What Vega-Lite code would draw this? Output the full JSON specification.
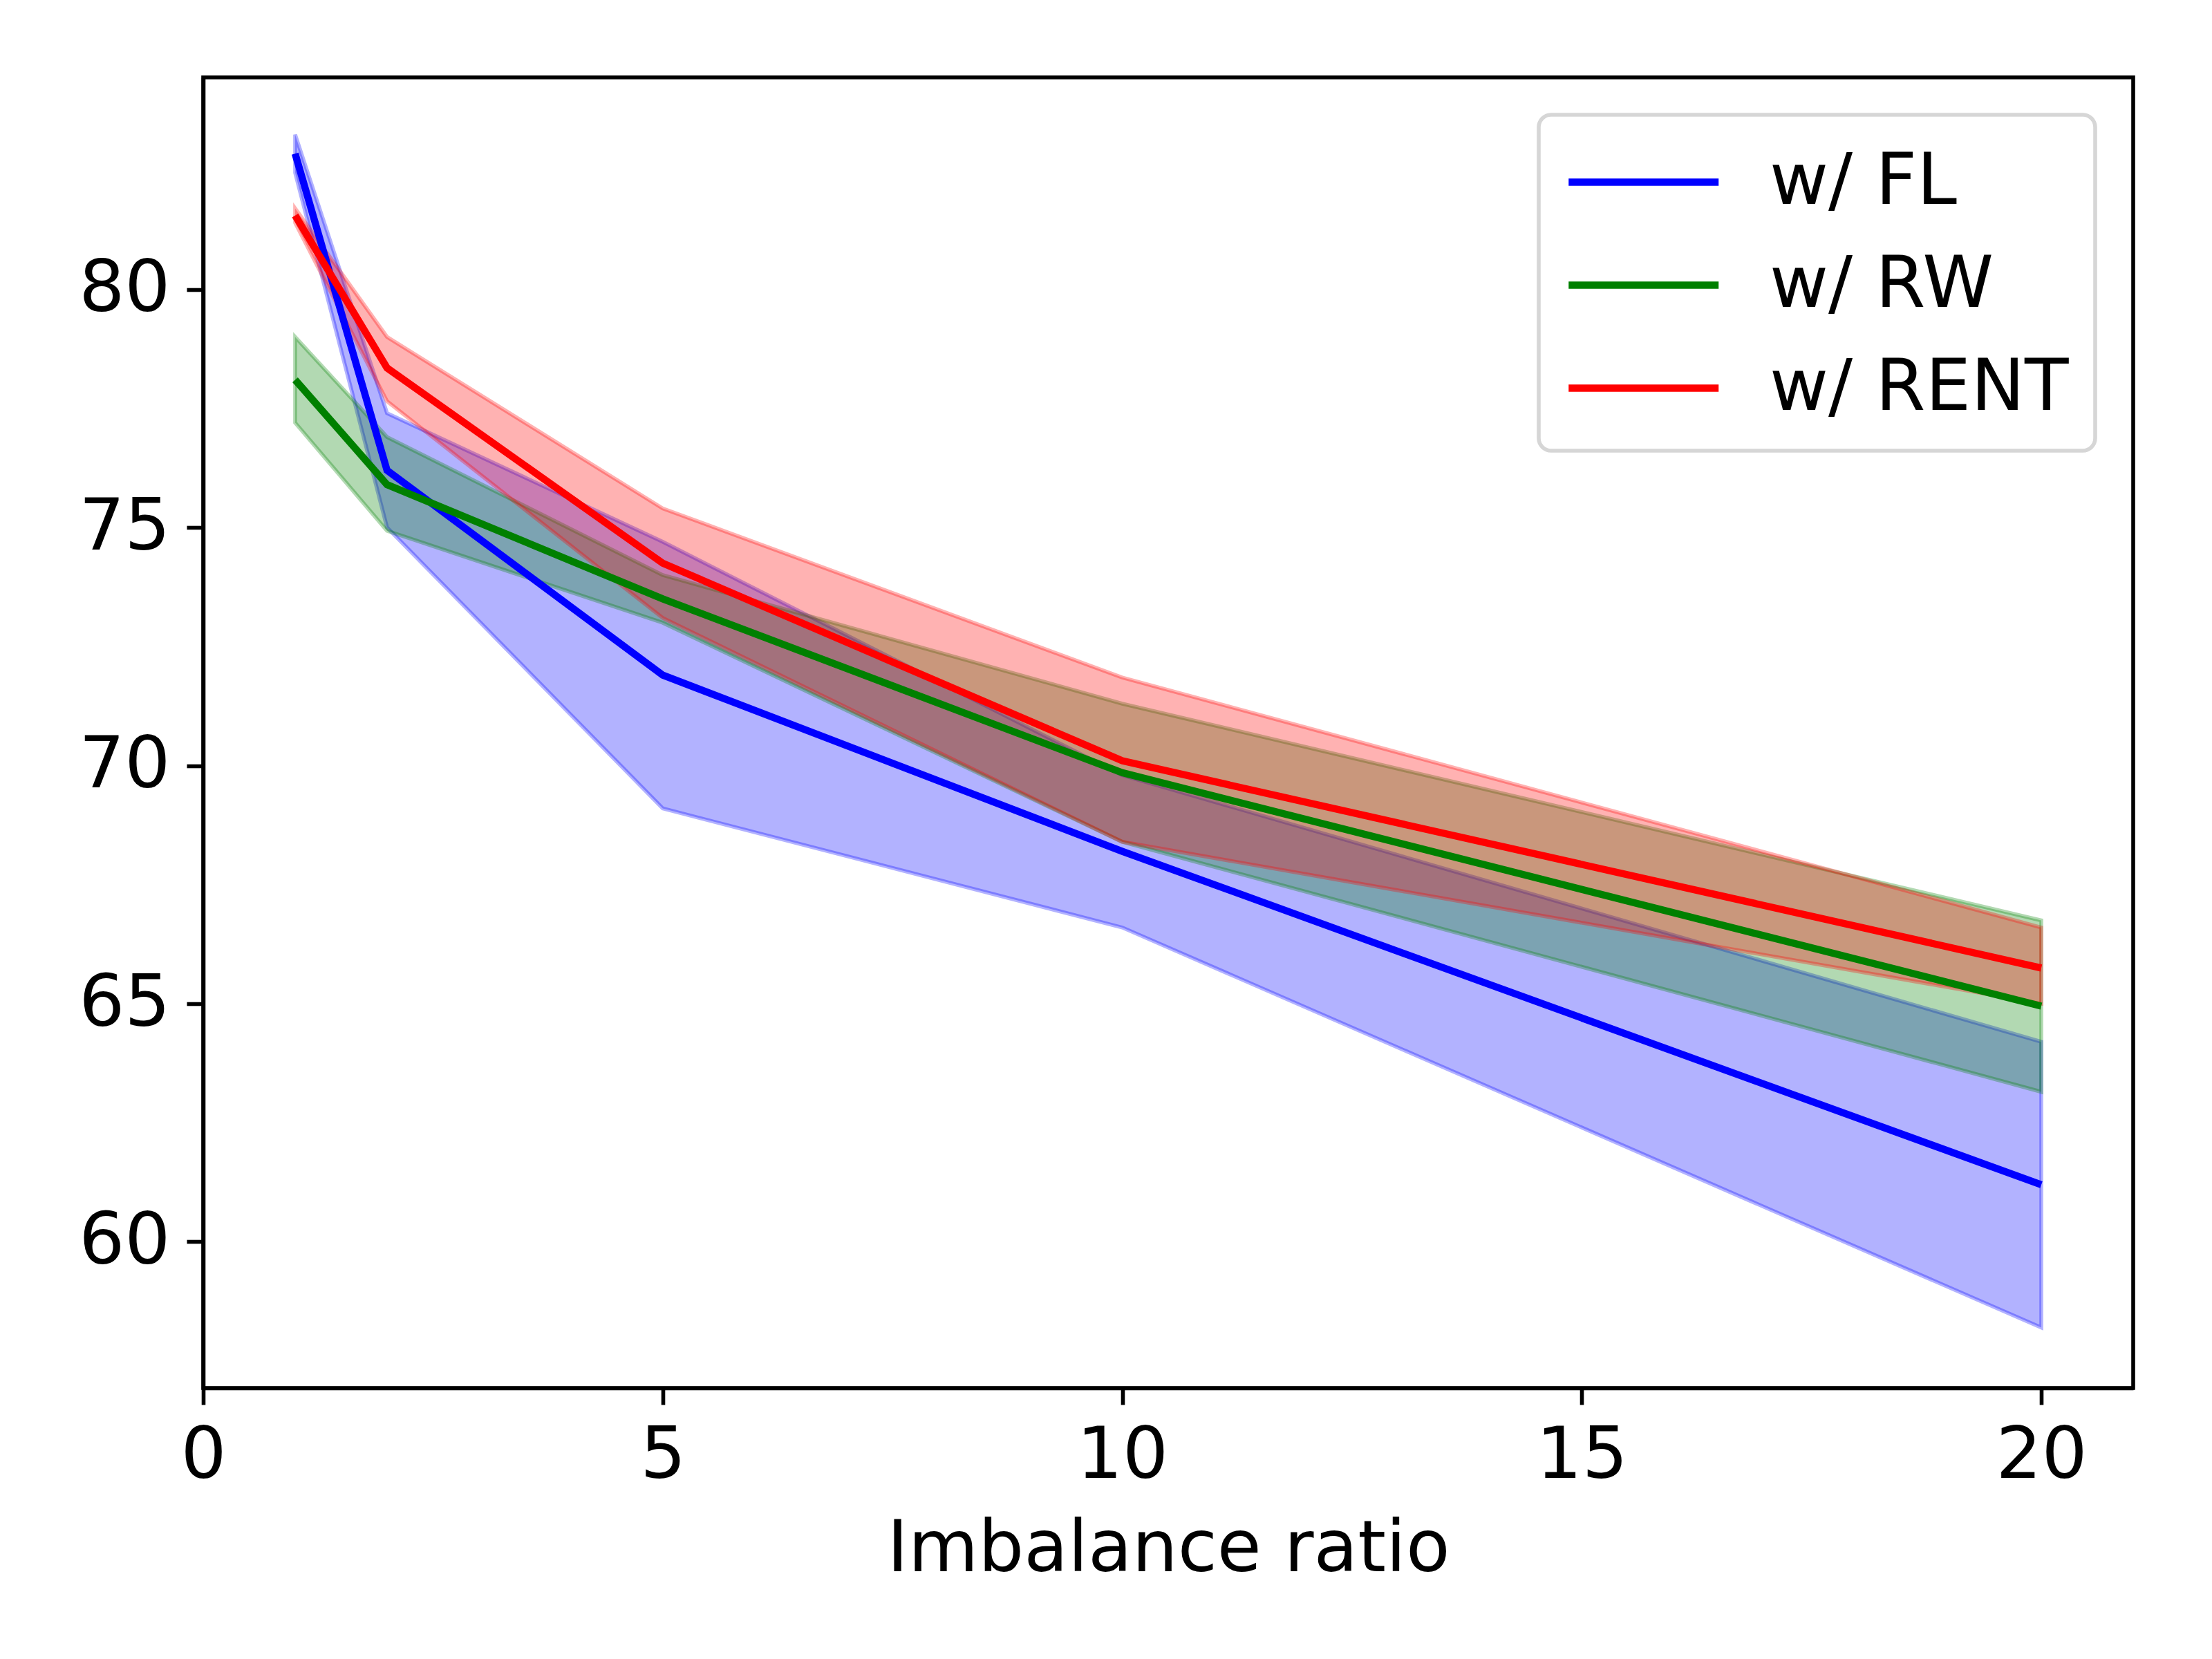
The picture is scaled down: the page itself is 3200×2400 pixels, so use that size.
{
  "$schema": "https://vega.github.io/schema/vega-lite/v6.json",
  "width": 2792,
  "height": 1896,
  "autosize": {"type": "none"},
  "padding": {"left": 294, "top": 112, "right": 114, "bottom": 392},
  "background": "white",
  "data": {
    "values": [
      {"ratio": 1, "method": "w/ FL", "mean": 82.85, "lo": 82.45, "hi": 83.25},
      {"ratio": 2, "method": "w/ FL", "mean": 76.2, "lo": 75.0, "hi": 77.4},
      {"ratio": 5, "method": "w/ FL", "mean": 71.9, "lo": 69.1, "hi": 74.7},
      {"ratio": 10, "method": "w/ FL", "mean": 68.2, "lo": 66.6, "hi": 69.8},
      {"ratio": 20, "method": "w/ FL", "mean": 61.2, "lo": 58.2, "hi": 64.2},
      {"ratio": 1, "method": "w/ RW", "mean": 78.1, "lo": 77.2, "hi": 79.0},
      {"ratio": 2, "method": "w/ RW", "mean": 75.9, "lo": 74.93, "hi": 76.9},
      {"ratio": 5, "method": "w/ RW", "mean": 73.5, "lo": 73.0, "hi": 74.0},
      {"ratio": 10, "method": "w/ RW", "mean": 69.85, "lo": 68.4, "hi": 71.3},
      {"ratio": 20, "method": "w/ RW", "mean": 64.95, "lo": 63.15, "hi": 66.75},
      {"ratio": 1, "method": "w/ RENT", "mean": 81.55, "lo": 81.4, "hi": 81.7},
      {"ratio": 2, "method": "w/ RENT", "mean": 78.35, "lo": 77.65, "hi": 79.0},
      {"ratio": 5, "method": "w/ RENT", "mean": 74.25, "lo": 73.1, "hi": 75.4},
      {"ratio": 10, "method": "w/ RENT", "mean": 70.1, "lo": 68.4, "hi": 71.85},
      {"ratio": 20, "method": "w/ RENT", "mean": 65.75, "lo": 65.0, "hi": 66.6}
    ]
  },
  "encoding": {
    "x": {
      "field": "ratio",
      "type": "quantitative",
      "title": "Imbalance ratio",
      "scale": {"domain": [0, 21], "nice": false, "zero": false},
      "axis": {"values": [0, 5, 10, 15, 20], "format": "d", "labelPadding": 23, "titlePadding": 32}
    }
  },
  "layer": [
    {
      "transform": [{"filter": "datum.method == 'w/ FL'"}],
      "mark": {"type": "area", "color": "#0000ff", "fillOpacity": 0.3, "stroke": "#0000ff", "strokeOpacity": 0.3, "strokeWidth": 5.6},
      "encoding": {
        "y": {"field": "lo", "type": "quantitative"},
        "y2": {"field": "hi"}
      }
    },
    {
      "transform": [{"filter": "datum.method == 'w/ RW'"}],
      "mark": {"type": "area", "color": "#008000", "fillOpacity": 0.3, "stroke": "#008000", "strokeOpacity": 0.3, "strokeWidth": 5.6},
      "encoding": {
        "y": {"field": "lo", "type": "quantitative"},
        "y2": {"field": "hi"}
      }
    },
    {
      "transform": [{"filter": "datum.method == 'w/ RENT'"}],
      "mark": {"type": "area", "color": "#ff0000", "fillOpacity": 0.3, "stroke": "#ff0000", "strokeOpacity": 0.3, "strokeWidth": 5.6},
      "encoding": {
        "y": {"field": "lo", "type": "quantitative"},
        "y2": {"field": "hi"}
      }
    },
    {
      "mark": {"type": "line", "strokeWidth": 10.4},
      "encoding": {
        "y": {
          "field": "mean",
          "type": "quantitative",
          "title": null,
          "scale": {"domain": [56.93, 84.45], "nice": false, "zero": false},
          "axis": {"values": [60, 65, 70, 75, 80], "format": "d", "labelPadding": 24}
        },
        "color": {
          "field": "method",
          "type": "nominal",
          "scale": {"domain": ["w/ FL", "w/ RW", "w/ RENT"], "range": ["#0000ff", "#008000", "#ff0000"]},
          "legend": {"title": null}
        }
      }
    }
  ],
  "config": {
    "font": "DejaVu Sans",
    "view": {"stroke": "black", "strokeWidth": 5.6},
    "axis": {
      "grid": false,
      "domainColor": "black",
      "domainWidth": 5.6,
      "tickColor": "black",
      "tickWidth": 5.6,
      "tickSize": 24,
      "labelFont": "DejaVu Sans",
      "labelFontSize": 104,
      "labelColor": "black",
      "labelLimit": 0,
      "titleFont": "DejaVu Sans",
      "titleFontSize": 104,
      "titleFontWeight": "normal",
      "titleColor": "black",
      "labelFlush": false,
      "labelOverlap": false
    },
    "legend": {
      "orient": "none",
      "legendX": 1932,
      "legendY": 54,
      "fillColor": "white",
      "strokeColor": "#d6d6d6",
      "strokeWidth": 5.6,
      "cornerRadius": 18,
      "padding": 38,
      "symbolType": "M-1,0H3",
      "symbolSize": 11772,
      "symbolStrokeWidth": 10.4,
      "labelFont": "DejaVu Sans",
      "labelFontSize": 104,
      "labelColor": "black",
      "labelLimit": 0,
      "labelOffset": 177,
      "rowPadding": 37
    }
  }
}
